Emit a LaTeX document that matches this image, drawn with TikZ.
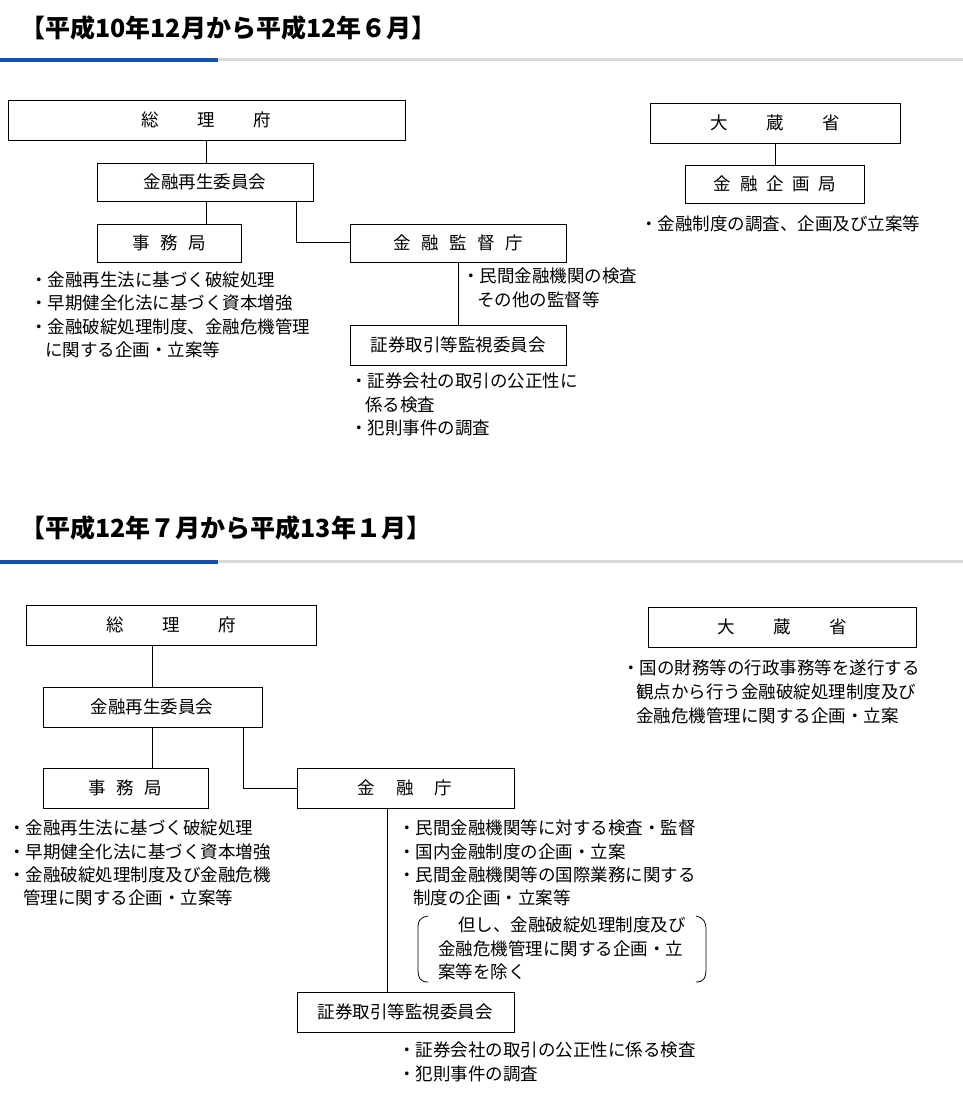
\documentclass[tikz,border=0pt]{standalone}
\usepackage{fontspec}
\setmainfont{Noto Sans CJK JP}
\definecolor{bar}{RGB}{20,80,170}
\begin{document}
\begin{tikzpicture}[x=1pt,y=-1pt,
  box/.style={draw,line width=1pt,inner sep=0pt},
  bt/.style={font=\fontsize{17.5}{17.5}\selectfont},
  tx/.style={anchor=west,inner sep=0pt,font=\fontsize{17.5}{17.5}\selectfont},
  ttl/.style={anchor=west,inner sep=0pt,font=\fontsize{25}{25}\selectfont\bfseries},
  ln/.style={line width=1pt}]
\useasboundingbox (0,0) rectangle (963,1103);
% section 1
\node[ttl] (t1) at (20,28) {【平成10年12月から平成12年６月】};
\fill[bar] (0,58) rectangle (218,62);
\fill[black!15] (218,58) rectangle (963,61);
\draw[box] (8,100) rectangle (405,140); \node[bt] (a1) at (206,120) {総\hspace{2.2em}理\hspace{2.2em}府};
\draw[box] (650,103) rectangle (900,143); \node[bt] (b1) at (775,123) {大\hspace{2.2em}蔵\hspace{2.2em}省};
\draw[box] (97,163) rectangle (313,201); \node[bt] (c1) at (205,182) {金融再生委員会};
\draw[box] (685,165) rectangle (864,203); \node[bt] (d1) at (775,184) {金\hspace{0.5em}融\hspace{0.5em}企\hspace{0.5em}画\hspace{0.5em}局};
\draw[box] (97,224) rectangle (241,262); \node[bt] (e1) at (169,243) {事\hspace{0.6em}務\hspace{0.6em}局};
\draw[box] (350,224) rectangle (566,262); \node[bt] (f1) at (458,243) {金\hspace{0.6em}融\hspace{0.6em}監\hspace{0.6em}督\hspace{0.6em}庁};
\draw[box] (350,325) rectangle (566,365); \node[bt] (g1) at (458,345) {証券取引等監視委員会};
\draw[ln] (206,140) -- (206,163);
\draw[ln] (775,143) -- (775,165);
\draw[ln] (206,201) -- (206,224);
\draw[ln] (296,201) -- (296,242) -- (350,242);
\draw[ln] (458,262) -- (458,325);
\node[tx] at (640,224) {・金融制度の調査、企画及び立案等};
\node[tx] at (30,280) {・金融再生法に基づく破綻処理};
\node[tx] at (30,303) {・早期健全化法に基づく資本増強};
\node[tx] at (30,327) {・金融破綻処理制度、金融危機管理};
\node[tx] at (45,350) {に関する企画・立案等};
\node[tx] at (462,276) {・民間金融機関の検査};
\node[tx] at (477,300) {その他の監督等};
\node[tx] at (350,381) {・証券会社の取引の公正性に};
\node[tx] at (365,405) {係る検査};
\node[tx] at (350,428) {・犯則事件の調査};
% section 2
\node[ttl] (t2) at (20,528) {【平成12年７月から平成13年１月】};
\fill[bar] (0,560) rectangle (218,564);
\fill[black!15] (218,560) rectangle (963,563);
\draw[box] (26,605) rectangle (316,645); \node[bt] (a2) at (171,625) {総\hspace{2.2em}理\hspace{2.2em}府};
\draw[box] (648,607) rectangle (916,647); \node[bt] (b2) at (782,627) {大\hspace{2.2em}蔵\hspace{2.2em}省};
\draw[box] (43,687) rectangle (262,727); \node[bt] (c2) at (152,707) {金融再生委員会};
\draw[box] (43,768) rectangle (208,808); \node[bt] (e2) at (125,788) {事\hspace{0.6em}務\hspace{0.6em}局};
\draw[box] (297,768) rectangle (514,808); \node[bt] (f2) at (405,788) {金\hspace{1.2em}融\hspace{1.2em}庁};
\draw[box] (297,992) rectangle (514,1032); \node[bt] (g2) at (405,1012) {証券取引等監視委員会};
\draw[ln] (152,645) -- (152,687);
\draw[ln] (152,727) -- (152,768);
\draw[ln] (243,727) -- (243,788) -- (297,788);
\draw[ln] (387,808) -- (387,992);
\node[tx] at (622,668) {・国の財務等の行政事務等を遂行する};
\node[tx] at (636,692) {観点から行う金融破綻処理制度及び};
\node[tx] at (636,716) {金融危機管理に関する企画・立案};
\node[tx] at (8,828) {・金融再生法に基づく破綻処理};
\node[tx] at (8,852) {・早期健全化法に基づく資本増強};
\node[tx] at (8,875) {・金融破綻処理制度及び金融危機};
\node[tx] at (23,898) {管理に関する企画・立案等};
\node[tx] at (398,828) {・民間金融機関等に対する検査・監督};
\node[tx] at (398,852) {・国内金融制度の企画・立案};
\node[tx] at (398,875) {・民間金融機関等の国際業務に関する};
\node[tx] at (413,898) {制度の企画・立案等};
\draw[line width=0.8pt] (428,916) .. controls (418,918) and (418,922) .. (418,930) -- (418,968) .. controls (418,978) and (420,982) .. (428,982);
\draw[line width=0.8pt] (696,916) .. controls (704,918) and (706,922) .. (706,930) -- (706,968) .. controls (706,978) and (704,982) .. (696,982);
\node[tx] at (458,925) {但し、金融破綻処理制度及び};
\node[tx] at (438,949) {金融危機管理に関する企画・立};
\node[tx] at (438,972) {案等を除く};
\node[tx] at (398,1050) {・証券会社の取引の公正性に係る検査};
\node[tx] at (398,1074) {・犯則事件の調査};
\end{tikzpicture}
\end{document}
